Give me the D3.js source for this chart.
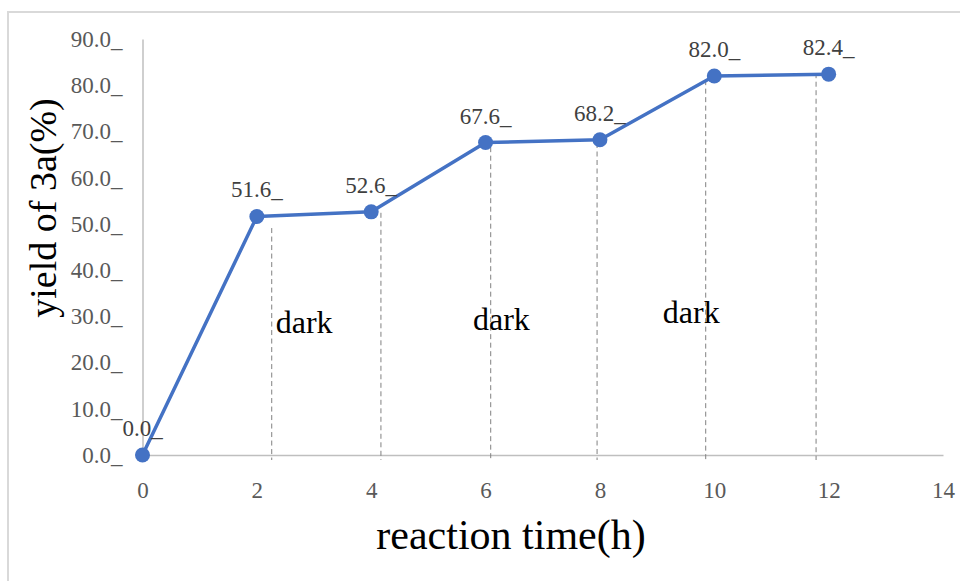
<!DOCTYPE html>
<html>
<head>
<meta charset="utf-8">
<script src="https://cdn.jsdelivr.net/npm/d3@7"></script>
<style>
  body { margin: 0; background: #fff; }
  svg { display: block; }
  .axis .domain { stroke: #bfbfbf; stroke-width: 1.5; }
  .dash-line { stroke: #808080; stroke-width: 1; stroke-dasharray: 5,3.5; }
</style>
</head>
<body>
<svg id="chart"></svg>
<script>
// datos
const times = [0, 2, 4, 6, 8, 10, 12];
const yields = [0.0, 51.6, 52.6, 67.6, 68.2, 82.0, 82.4];
const xTicks = [0, 2, 4, 6, 8, 10, 12, 14];
const yTicks = [0, 10, 20, 30, 40, 50, 60, 70, 80, 90];

// lineas discontinuas dibujadas a mano (x en horas, parte alta en %)
const dashX = [2.26, 4.17, 6.09, 7.95, 9.85, 11.78];
const dashTop = [49.1, 52.4, 66.6, 67.5, 81.1, 82.6];

// etiquetas "dark" (x izquierda en horas, linea base en %)
const darkText = ["dark", "dark", "dark"];
const darkX = [2.33, 5.78, 9.1];
const darkY = [26.4, 27.0, 28.6];

const SERIF = '"Liberation Serif", "Times New Roman", Times, serif';

const W = 960, H = 581;
const margin = { top: 39, right: 17, bottom: 126, left: 142.5 };
const width = W - margin.left - margin.right;
const height = H - margin.top - margin.bottom;

const svg = d3.select('#chart').attr('width', W).attr('height', H)
    .attr('font-family', SERIF);

// marco gris exterior
svg.append('rect')
    .attr('x', 8).attr('y', 12)
    .attr('width', 1000).attr('height', 1000)
    .attr('fill', 'none')
    .attr('stroke', '#d9d9d9')
    .attr('stroke-width', 2);

const g = svg.append('g').attr('transform', `translate(${margin.left},${margin.top})`);

const x = d3.scaleLinear().domain([0, 14]).range([0, width]);
const y = d3.scaleLinear().domain([0, 90]).range([height, 0]);

const fmt = d3.format('.1f');

// ejes
g.append('g')
    .attr('class', 'axis axis-x')
    .attr('transform', `translate(0,${height})`)
    .call(d3.axisBottom(x).tickValues(xTicks).tickSize(0).tickPadding(27).tickFormat(d3.format('d')));

g.append('g')
    .attr('class', 'axis axis-y')
    .call(d3.axisLeft(y).tickValues(yTicks).tickSize(0).tickPadding(20).tickFormat(d => fmt(d) + '_'));

g.selectAll('.axis')
    .attr('font-family', SERIF)
    .attr('font-size', 23);

g.selectAll('.axis text')
    .attr('fill', '#595959')
    .attr('font-family', SERIF);

// lineas discontinuas
g.append('g').selectAll('line')
    .data(dashX)
    .join('line')
    .attr('class', 'dash-line')
    .attr('x1', d => x(d)).attr('x2', d => x(d))
    .attr('y1', (d, i) => y(dashTop[i]))
    .attr('y2', y(0) + 5);

// serie
const line = d3.line()
    .x((d, i) => x(times[i]))
    .y(d => y(d));

g.append('path')
    .datum(yields)
    .attr('fill', 'none')
    .attr('stroke', '#4472c4')
    .attr('stroke-width', 3.5)
    .attr('stroke-linejoin', 'round')
    .attr('d', line);

g.append('g').selectAll('circle')
    .data(yields)
    .join('circle')
    .attr('cx', (d, i) => x(times[i]))
    .attr('cy', d => y(d))
    .attr('r', 7.5)
    .attr('fill', '#4472c4');

g.append('g').selectAll('text')
    .data(yields)
    .join('text')
    .attr('x', (d, i) => x(times[i]))
    .attr('y', d => y(d) - 19)
    .attr('text-anchor', 'middle')
    .attr('font-family', SERIF)
    .attr('font-size', 23)
    .attr('fill', '#404040')
    .text(d => fmt(d) + '_');

// textos "dark"
g.append('g').selectAll('text')
    .data(darkText)
    .join('text')
    .attr('x', (d, i) => x(darkX[i]))
    .attr('y', (d, i) => y(darkY[i]))
    .attr('font-family', SERIF)
    .attr('font-size', 32)
    .attr('fill', '#000')
    .text(d => d);

// titulos de ejes
svg.append('text')
    .attr('x', 511).attr('y', 549)
    .attr('text-anchor', 'middle')
    .attr('font-family', SERIF)
    .attr('font-size', 42)
    .attr('fill', '#000')
    .text('reaction time(h)');

svg.append('text')
    .attr('transform', 'translate(56,208) rotate(-90)')
    .attr('text-anchor', 'middle')
    .attr('font-family', SERIF)
    .attr('font-size', 38)
    .attr('fill', '#000')
    .text('yield of 3a(%)');
</script>
</body>
</html>
